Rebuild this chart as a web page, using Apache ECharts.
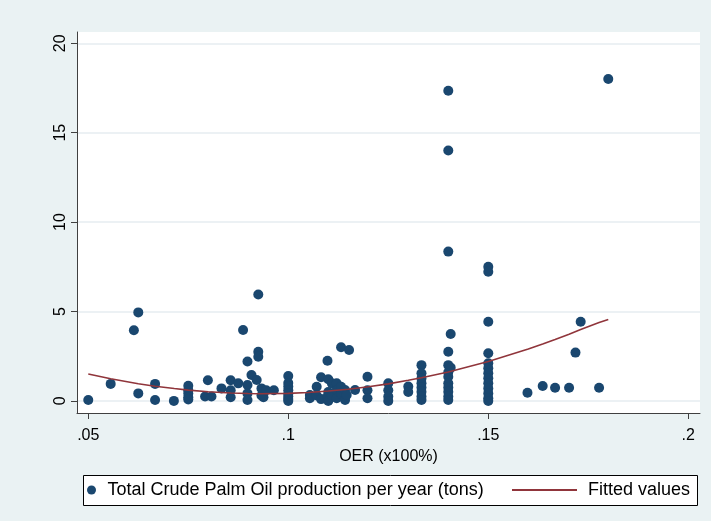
<!DOCTYPE html>
<html>
<head>
<meta charset="utf-8">
<script src="https://cdn.jsdelivr.net/npm/echarts@6/dist/echarts.min.js"></script>
<style>
html,body{margin:0;padding:0;background:#eaf2f3;}
#chart{width:711px;height:521px;}
</style>
</head>
<body>
<div id="chart"></div>
<script>
// Scatter observations (OER, Total CPO production per year in tons)
const oer = [
  0.05, 0.0556, 0.0614, 0.0625, 0.0625, 0.0667, 0.0667, 0.0714,
  0.075, 0.075, 0.075, 0.075, 0.075,
  0.0792, 0.0808, 0.0799, 0.0833,
  0.0856, 0.0856, 0.0856, 0.0875, 0.0887,
  0.0898, 0.0898, 0.0898, 0.0898, 0.0908, 0.0921,
  0.0925, 0.0925, 0.0925, 0.0933, 0.0933, 0.0938, 0.0938, 0.0945, 0.0964,
  0.1, 0.1, 0.1, 0.1, 0.1, 0.1, 0.1, 0.1,
  0.1054, 0.1054, 0.1071, 0.1071, 0.1082, 0.1082, 0.1098, 0.1098,
  0.11, 0.11, 0.11, 0.1109, 0.1109, 0.1121, 0.1121, 0.1121,
  0.1132, 0.1132, 0.1132, 0.1142, 0.1142, 0.1146, 0.1152, 0.1167,
  0.1198, 0.1198, 0.1198,
  0.125, 0.125, 0.125, 0.125,
  0.13, 0.13,
  0.1333, 0.1333, 0.1333, 0.1333, 0.1333, 0.1333, 0.1333, 0.1333,
  0.14, 0.14, 0.14, 0.14, 0.14, 0.14, 0.14, 0.14, 0.14, 0.14, 0.14, 0.14,
  0.1406, 0.1406,
  0.15, 0.15, 0.15, 0.15, 0.15, 0.15, 0.15, 0.15, 0.15, 0.15, 0.15, 0.15, 0.15,
  0.1598, 0.1636, 0.1667, 0.1702, 0.1718, 0.1731, 0.1777, 0.18
];
const cpoTons = [
  0.05, 0.95, 3.95, 4.95, 0.42, 0.95, 0.05, 0.0,
  0.85, 0.6, 0.42, 0.2, 0.08,
  0.25, 0.25, 1.15, 0.7,
  1.15, 0.6, 0.2, 0.98, 3.97,
  2.2, 0.89, 0.42, 0.05, 1.45, 1.17,
  5.95, 2.75, 2.47, 0.7, 0.3, 0.55, 0.2, 0.6, 0.6,
  1.39, 1.0, 0.8, 0.6, 0.4, 0.24, 0.1, 0.0,
  0.33, 0.15, 0.79, 0.3, 1.32, 0.1, 2.25, 0.23,
  1.21, 0.5, 0.0, 0.98, 0.3, 0.98, 0.6, 0.15,
  3.0, 0.79, 0.4, 0.61, 0.05, 0.33, 2.85, 0.61,
  1.35, 0.6, 0.15,
  0.98, 0.6, 0.24, 0.0,
  0.8, 0.5,
  2.0, 1.54, 1.25, 0.98, 0.75, 0.51, 0.25, 0.05,
  17.35, 14.0, 8.35, 2.75, 2.0, 1.6, 1.35, 0.98, 0.75, 0.51, 0.25, 0.05,
  3.74, 1.86,
  7.5, 7.22, 4.43, 2.66, 2.1, 1.82, 1.54, 1.26, 0.98, 0.7, 0.42, 0.15, 0.0,
  0.46, 0.83, 0.74, 0.74, 2.7, 4.43, 0.74, 18.0
];
// Fitted values
const fitOer = [0.05, 0.0556, 0.0625, 0.0667, 0.0715, 0.075, 0.08, 0.0856, 0.09, 0.0925,
  0.1, 0.105, 0.11, 0.115, 0.12, 0.125, 0.13, 0.1333, 0.14, 0.15, 0.16, 0.1636,
  0.1667, 0.1702, 0.1731, 0.1777, 0.18];
const fitValues = [1.5, 1.24, 0.96, 0.82, 0.69, 0.6, 0.51, 0.44, 0.41, 0.4,
  0.42, 0.47, 0.55, 0.65, 0.79, 0.95, 1.15, 1.29, 1.62, 2.2, 2.9, 3.18,
  3.43, 3.73, 3.99, 4.38, 4.55];
// Ticks
const xTicks = [0.05, 0.1, 0.15, 0.2];
const xTickLabels = ['.05', '.1', '.15', '.2'];
const yTicks = [0, 5, 10, 15, 20];
const yTickLabels = ['0', '5', '10', '15', '20'];
const seriesNames = ['Total Crude Palm Oil production per year (tons)', 'Fitted values'];
const xTitle = 'OER (x100%)';

const FONT = '"Liberation Sans", Arial, sans-serif';
const chart = echarts.init(document.getElementById('chart'), null, {renderer: 'canvas'});
const scatterData = oer.map((x, i) => [x, cpoTons[i]]);
const fitData = fitOer.map((x, i) => [x, fitValues[i]]);

chart.setOption({
  backgroundColor: '#eaf2f3',
  animation: false,
  textStyle: {fontFamily: FONT},
  grid: {left: 77, right: 11, top: 32, bottom: 108, show: true, backgroundColor: '#ffffff', borderWidth: 0},
  xAxis: {
    type: 'value', min: 0.04718, max: 0.20293,
    name: xTitle, nameLocation: 'middle', nameGap: 35,
    nameTextStyle: {fontSize: 16, color: '#000', fontFamily: FONT},
    axisLine: {show: true, onZero: false, lineStyle: {color: '#404040', width: 1}},
    axisTick: {show: true, length: 6, customValues: xTicks, lineStyle: {color: '#404040'}},
    axisLabel: {show: true, customValues: xTicks, margin: 15, fontSize: 16, color: '#000', fontFamily: FONT,
      formatter: v => xTickLabels[xTicks.indexOf(v)] ?? ''},
    splitLine: {show: false}
  },
  yAxis: {
    type: 'value', min: -0.677, max: 20.632,
    axisLine: {show: true, onZero: false, lineStyle: {color: '#404040', width: 1}},
    axisTick: {show: true, length: 6, customValues: yTicks, lineStyle: {color: '#404040'}},
    axisLabel: {show: true, customValues: yTicks, rotate: 90, margin: 8, fontSize: 16, color: '#000', fontFamily: FONT,
      formatter: v => yTickLabels[yTicks.indexOf(v)] ?? ''},
    splitLine: {show: true, lineStyle: {color: '#e6edf0', width: 1.5}}
  },
  legend: [
    {
      data: [seriesNames[0]], left: 87, top: 481, padding: 0, itemWidth: 22, itemHeight: 9, icon: 'circle',
      textStyle: {fontSize: 18, color: '#000', fontFamily: FONT}
    },
    {
      data: [{name: seriesNames[1], icon: 'rect'}], left: 512, top: 481, padding: 0, itemWidth: 65, itemHeight: 2,
      textStyle: {fontSize: 18, color: '#000', fontFamily: FONT, padding: [0, 0, 0, 6]}
    }
  ],
  graphic: [{
    type: 'rect', left: 83, top: 475, shape: {width: 614, height: 30},
    style: {fill: '#ffffff', stroke: '#000', lineWidth: 1}, z: -1, silent: true
  }],
  series: [
    {
      name: seriesNames[0], type: 'scatter', data: scatterData, symbol: 'circle', symbolSize: 10,
      itemStyle: {color: '#1a476f', opacity: 1}, z: 2
    },
    {
      name: seriesNames[1], type: 'line', data: fitData, showSymbol: false, symbol: 'none', smooth: false,
      lineStyle: {color: '#90353b', width: 1.6}, itemStyle: {color: '#90353b'}, z: 3
    }
  ]
});
</script>
</body>
</html>
